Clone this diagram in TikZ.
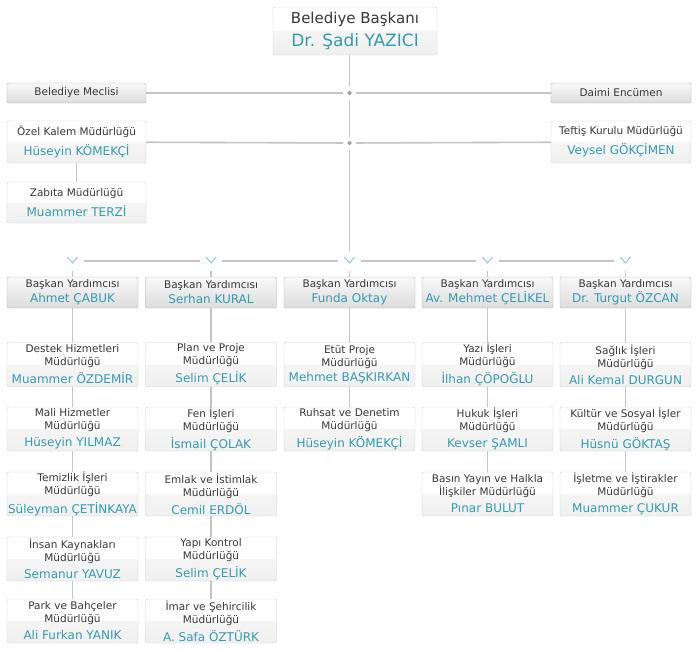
\documentclass[tikz,border=0pt]{standalone}
\usepackage{fontspec}
\setmainfont{DejaVu Sans}
\usetikzlibrary{shapes.geometric}
\definecolor{isim}{RGB}{52,155,175}
\definecolor{unvan}{RGB}{55,55,55}
\definecolor{cizgirenk}{RGB}{196,196,196}
\definecolor{kenar}{RGB}{204,204,204}
\definecolor{okrenk}{RGB}{140,200,215}
\newcommand{\isim}[1]{{\color{isim}\fontsize{12}{14}\selectfont #1}}
\tikzset{kututemel/.style={rectangle, rounded corners=2pt, text=unvan, align=center,
    inner sep=0pt, minimum width=131pt, font=\fontsize{10.5}{13}\selectfont},
  kutu/.style={kututemel, draw=kenar, fill=white, minimum height=44pt,
    path picture={\fill[top color=gray!4, bottom color=gray!12]
      (path picture bounding box.west) rectangle (path picture bounding box.south east);}},
  grikutu/.style={kututemel, draw=gray!65, top color=gray!5, bottom color=gray!27,
    minimum height=31pt},
  cizgi/.style={draw=cizgirenk, line width=1.6pt},
  elmas/.style={diamond, fill=gray!75, inner sep=0pt, minimum size=7pt, outer sep=3pt},
  cevron/.style={rectangle, inner sep=0pt, minimum width=22pt, minimum height=20pt,
    path picture={\draw[okrenk, line width=1pt]
      ([xshift=-5pt,yshift=4pt]path picture bounding box.center) -- ++(5pt,-6pt) -- ++(5pt,6pt);}}}

\begin{document}
\begin{tikzpicture}[x=1pt, y=-1pt]
        \useasboundingbox (0,0) rectangle (700,650);
        % baskan ve meclis
        \node[kutu, minimum width=164pt, minimum height=48pt, font=\fontsize{15}{18}\selectfont] (baskan) at (355,31)
            {Belediye Başkanı\\[5pt]{\color{isim}\fontsize{17}{20}\selectfont Dr. Şadi YAZICI}};
        \node[grikutu, minimum width=139pt, minimum height=20pt] (meclis) at (76.5,93) {Belediye Meclisi};
        \node[grikutu, minimum width=140pt, minimum height=20pt] (encumen) at (621,93) {Daimi Encümen};
        \node[elmas] (e1) at (349.5,93) {};
        \node[kutu, minimum width=139pt, minimum height=42pt] (ozelkalem) at (76.5,142)
            {Özel Kalem Müdürlüğü\\[6pt]\isim{Hüseyin KÖMEKÇİ}};
        \node[kutu, minimum width=140pt, minimum height=42pt] (teftis) at (621,142)
            {Teftiş Kurulu Müdürlüğü\\[6pt]\isim{Veysel GÖKÇİMEN}};
        \node[elmas] (e2) at (349.5,143) {};
        \node[kutu, minimum width=139pt, minimum height=41pt] (zabita) at (76.5,202.5)
            {Zabıta Müdürlüğü\\[6pt]\isim{Muammer TERZİ}};
        % yardimcilar
        \node[cevron] (v1) at (72.5,261) {};
        \node[cevron] (v2) at (211,261) {};
        \node[cevron] (v3) at (349.5,261) {};
        \node[cevron] (v4) at (487.5,261) {};
        \node[cevron] (v5) at (625.5,261) {};
        \node[grikutu] (by1) at (72.5,292.5) {Başkan Yardımcısı\\[2pt]\isim{Ahmet ÇABUK}};
        \node[grikutu] (by2) at (211,292.5) {Başkan Yardımcısı\\[2pt]\isim{Serhan KURAL}};
        \node[grikutu] (by3) at (349.5,292.5) {Başkan Yardımcısı\\[2pt]\isim{Funda Oktay}};
        \node[grikutu] (by4) at (487.5,292.5) {Başkan Yardımcısı\\[2pt]\isim{Av. Mehmet ÇELİKEL}};
        \node[grikutu] (by5) at (625.5,292.5) {Başkan Yardımcısı\\[2pt]\isim{Dr. Turgut ÖZCAN}};
        % mudurlukler
        \node[kutu] (destek) at (72.5,364.5) {Destek Hizmetleri\\Müdürlüğü\\[4pt]\isim{Muammer ÖZDEMİR}};
        \node[kutu] (mali) at (72.5,429) {Mali Hizmetler\\Müdürlüğü\\[4pt]\isim{Hüseyin YILMAZ}};
        \node[kutu] (temizlik) at (72.5,494) {Temizlik İşleri\\Müdürlüğü\\[4pt]\isim{Süleyman ÇETİNKAYA}};
        \node[kutu] (insan) at (72.5,559) {İnsan Kaynakları\\Müdürlüğü\\[4pt]\isim{Semanur YAVUZ}};
        \node[kutu] (park) at (72.5,621) {Park ve Bahçeler\\Müdürlüğü\\[4pt]\isim{Ali Furkan YANIK}};
        \node[kutu] (plan) at (211,364.5) {Plan ve Proje\\Müdürlüğü\\[4pt]\isim{Selim ÇELİK}};
        \node[kutu] (fen) at (211,429) {Fen İşleri\\Müdürlüğü\\[4pt]\isim{İsmail ÇOLAK}};
        \node[kutu] (emlak) at (211,494) {Emlak ve İstimlak\\Müdürlüğü\\[4pt]\isim{Cemil ERDÖL}};
        \node[kutu] (yapi) at (211,559) {Yapı Kontrol\\Müdürlüğü\\[4pt]\isim{Selim ÇELİK}};
        \node[kutu] (imar) at (211,621) {İmar ve Şehircilik\\Müdürlüğü\\[4pt]\isim{A. Safa ÖZTÜRK}};
        \node[kutu] (etut) at (349.5,364.5) {Etüt Proje\\Müdürlüğü\\[2pt]\isim{Mehmet BAŞKIRKAN}};
        \node[kutu] (ruhsat) at (349.5,429) {Ruhsat ve Denetim\\Müdürlüğü\\[4pt]\isim{Hüseyin KÖMEKÇİ}};
        \node[kutu] (yazi) at (487.5,364.5) {Yazı İşleri\\Müdürlüğü\\[4pt]\isim{İlhan ÇÖPOĞLU}};
        \node[kutu] (hukuk) at (487.5,429) {Hukuk İşleri\\Müdürlüğü\\[4pt]\isim{Kevser ŞAMLI}};
        \node[kutu] (basin) at (487.5,494) {Basın Yayın ve Halkla\\İlişkiler Müdürlüğü\\[4pt]\isim{Pınar BULUT}};
        \node[kutu] (saglik) at (625.5,364.5) {Sağlık İşleri\\Müdürlüğü\\[4pt]\isim{Ali Kemal DURGUN}};
        \node[kutu] (kultur) at (625.5,429) {Kültür ve Sosyal İşler\\Müdürlüğü\\[4pt]\isim{Hüsnü GÖKTAŞ}};
        \node[kutu] (isletme) at (625.5,494) {İşletme ve İştirakler\\Müdürlüğü\\[4pt]\isim{Muammer ÇUKUR}};
        % baglantilar
        \draw[cizgi] (baskan.south -| e1) -- (e1) -- (e2) -- (v3);
        \draw[cizgi] (meclis) -- (e1) -- (encumen);
        \draw[cizgi] (ozelkalem) -- (e2) -- (teftis);
        \draw[cizgi] (ozelkalem) -- (zabita);
        \draw[cizgi] (v1) -- (v2) -- (v3) -- (v4) -- (v5);
        \draw[cizgi] (v1) -- (by1);
        \draw[cizgi] (v2) -- (by2);
        \draw[cizgi] (v3) -- (by3);
        \draw[cizgi] (v4) -- (by4);
        \draw[cizgi] (v5) -- (by5);
        \draw[cizgi] (by1) -- (destek) -- (mali) -- (temizlik) -- (insan) -- (park);
        \draw[cizgi] (by2) -- (plan) -- (fen) -- (emlak) -- (yapi) -- (imar);
        \draw[cizgi] (by3) -- (etut) -- (ruhsat);
        \draw[cizgi] (by4) -- (yazi) -- (hukuk) -- (basin);
        \draw[cizgi] (by5) -- (saglik) -- (kultur) -- (isletme);
    \end{tikzpicture}
\end{document}
